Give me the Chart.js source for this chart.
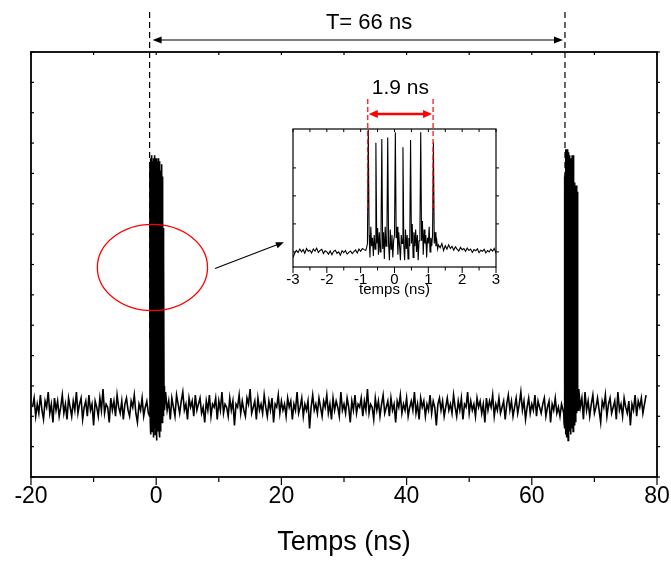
<!DOCTYPE html>
<html><head><meta charset="utf-8">
<script src="https://cdn.jsdelivr.net/npm/chart.js@4.4.1/dist/chart.umd.min.js"></script>
<style>
html,body{margin:0;padding:0;background:#fff;}
#wrap{position:relative;width:671px;height:563px;overflow:hidden;}
#main{position:absolute;left:0;top:0;}
#inset{position:absolute;left:255px;top:70px;}
</style></head><body>
<div id="wrap"><canvas id="main" width="671" height="563"></canvas><canvas id="inset" width="270" height="235"></canvas></div>
<script>
// ---------- main trace (time in ns, amplitude in arbitrary units) ----------
const coarseStep = 0.25, fineStep = 0.05;
const noiseAStart = -19.75;
const noiseA = [2.3,2.6,2.0,2.4,2.1,2.7,2.2,1.9,2.5,2.3,2.8,2.1,2.4,1.8,2.6,2.2,2.5,2.0,2.3,2.7,
2.1,2.4,1.9,2.6,2.3,2.0,2.5,2.2,2.8,2.1,2.4,2.6,1.9,2.3,2.5,2.0,2.7,2.2,2.4,1.7,
2.5,2.3,2.0,2.6,2.2,2.9,2.1,2.4,2.3,1.8,2.6,2.2,2.5,2.0,2.7,2.3,2.1,2.5,1.9,2.4,
2.6,2.2,2.0,2.5,2.3,2.7,2.1,1.8,2.4,2.2,2.6,2.0,2.3,2.5,2.1];
const pulse1Start = -1.05;
const pulse1 = [2.0,10.3,1.8,10.5,1.4,10.2,2.2,10.6,1.5,10.4,1.7,10.1,1.3,10.5,2.0,10.3,1.6,10.6,1.4,10.2,
1.9,10.5,1.2,10.3,1.7,10.4,1.5,10.0,2.1,10.5,1.6,10.2,1.3,10.4,1.9,10.1,1.5,9.8,2.2,10.3,
1.8,9.9,2.4,8.2,2.0,7.4,2.6,3.0,2.2];
const noiseBStart = 1.5;
const noiseB = [2.8,2.2,2.5,1.9,2.6,2.3,2.0,2.7,2.4,2.1,2.5,2.8,2.2,2.4,1.9,2.6,2.3,2.5,2.0,2.7,
2.2,2.4,2.6,2.1,2.3,1.8,2.5,2.2,2.7,2.0,2.4,2.3,2.6,1.9,2.5,2.2,2.8,2.1,2.4,2.3,
2.0,2.6,2.2,2.5,1.7,2.4,2.3,2.7,2.1,2.5,2.2,2.0,2.6,2.4,2.9,2.1,2.3,2.5,1.9,2.6,
2.2,2.4,2.1,2.7,2.3,2.0,2.5,2.2,2.6,1.8,2.4,2.3,2.7,2.1,2.5,2.2,2.4,2.0,2.6,2.3,
2.5,1.9,2.4,2.2,2.8,2.1,2.3,2.6,2.0,2.4,2.2,2.5,1.6,2.3,2.7,2.2,2.4,2.1,2.6,2.3,
2.0,2.5,2.3,2.7,2.1,2.4,1.9,2.6,2.2,2.5,2.3,2.0,2.8,2.2,2.4,2.1,2.6,2.3,1.8,2.5,
2.2,2.7,2.1,2.4,2.3,2.6,2.0,2.5,2.2,2.9,2.1,2.4,2.3,1.9,2.6,2.2,2.5,2.0,2.4,2.7,
2.1,2.3,2.5,2.0,2.6,2.2,2.4,1.8,2.5,2.3,2.7,2.1,2.4,2.2,2.6,2.0,2.3,2.5,2.2,2.8,
2.1,2.4,1.9,2.6,2.3,2.5,2.0,2.4,2.2,2.7,2.1,2.5,2.3,1.7,2.4,2.6,2.2,2.5,2.0,2.3,
2.6,2.2,2.4,2.1,2.7,2.3,2.0,2.5,2.2,2.6,1.9,2.4,2.3,2.8,2.1,2.5,2.2,2.4,2.0,2.6,
2.3,2.5,2.1,2.4,1.8,2.6,2.2,2.5,2.3,2.7,2.0,2.4,2.2,2.6,2.1,2.3,2.5,1.9,2.4,2.7,
2.2,2.5,2.0,2.3,2.6,2.1,2.4,2.8,2.2,2.5,1.9,2.3,2.6,2.1,2.4,2.2,2.7,2.0,2.5,2.3,
2.1,2.4,2.6,2.0,2.3,2.5,1.8,2.4,2.2,2.6,2.1,2.3,2.0,2.4,2.2];
const pulse2Start = 65.1;
const pulse2 = [2.1,1.8,2.4,9.9,1.6,10.0,1.4,10.8,1.9,10.6,1.3,10.8,1.7,10.5,1.2,10.7,2.0,10.4,1.5,10.6,
1.8,10.3,1.4,10.5,2.1,10.2,1.6,10.6,1.9,10.1,1.5,10.6,2.2,9.6,1.7,9.7,2.0,9.5,1.8,9.6,
2.3,9.6,2.1,9.4,2.6,2.9,2.2];
const noiseCStart = 67.5;
const noiseC = [2.9,2.3,2.6,1.9,2.8,2.2,2.5,2.0,2.4,2.7,2.1,2.3,2.6,2.2,1.8,2.5,2.3,2.7,2.0,2.4,
2.6,2.1,2.3,2.5,1.9,2.8,2.2,2.4,2.0,2.6,2.3,2.1,2.5,1.7,2.4,2.2,2.7,2.0,2.5,2.3,
2.6,2.1,2.4,2.7];

// ---------- inset trace (zoom on one pulse train) ----------
const insetCoarse = 0.05, insetFine = 0.025;
const insetNoiseLStart = -3.0;
const insetNoiseL = [-0.2,-0.05,0.05,-0.02,0.1,0.0,0.08,-0.05,0.12,0.02,0.06,-0.04,0.1,0.03,0.13,-0.02,0.05,0.09,-0.06,0.04,
0.0,-0.08,0.03,-0.1,0.02,0.06,-0.05,0.0,-0.12,0.04,-0.03,0.05,-0.08,-0.02,0.03,-0.06,0.01,0.07,-0.04,0.1,
0.02,0.12,0.08];
const insetPulseStart = -0.85;
const insetPulse = [0.05,0.15,0.3,4.35,0.6,-0.2,0.9,0.2,0.5,-0.15,0.6,0.1,3.9,0.3,0.85,-0.1,0.7,0.0,0.4,4.03,
0.1,0.7,-0.25,0.9,0.2,0.5,4.09,0.3,-0.3,0.8,0.1,0.6,-0.2,0.4,0.6,4.27,0.5,0.9,-0.1,0.7,
0.2,-0.3,0.6,0.3,3.74,0.2,-0.3,0.8,0.1,0.6,-0.25,0.5,0.2,4.0,0.3,1.0,-0.2,0.7,0.2,0.8,
0.0,0.6,-0.3,0.4,0.5,4.27,0.4,1.1,-0.1,0.8,0.3,0.6,-0.2,0.5,0.3,0.9,0.0,0.5,0.2,0.6,
3.91,0.3,0.7,0.2,0.4,0.1,0.25];
const insetNoiseRStart = 1.35;
const insetNoiseR = [0.15,0.3,0.05,0.22,0.1,0.25,0.12,0.2,0.06,0.18,0.1,0.03,0.16,0.08,0.12,0.02,0.14,0.05,0.1,-0.02,
0.08,0.04,0.11,-0.03,0.06,0.02,0.09,-0.04,0.05,0.0,0.1,0.03,0.12,-0.05];

// ---------- annotations (data units) ----------
const periodMarks = [-1.05, 65.3];
const periodLabel = 'T= 66 ns';
const periodLabelX = 34;
const trainMarks = [-0.79, 1.14];
const trainLabel = '1.9 ns';
const ellipse = {cx: -0.6, cy: 6.9, rx: 8.8, ry: 1.42};
const pointerFrom = {x: 9.4, y: 6.87}, pointerTo = {x: 20.4, y: 7.73};
const mainXTicks = {min: -20, max: 80, step: 10, labelEvery: 20};
const insetXTicks = {min: -3, max: 3, step: 0.5};

const FONT = '"Liberation Sans", Arial, Helvetica, sans-serif';
Chart.defaults.font.family = FONT;
Chart.defaults.color = '#000';

function seg(start, step, vals) {
  return vals.map((v, i) => ({x: +(start + i * step).toFixed(4), y: v}));
}
const mainData = [].concat(
  seg(noiseAStart, coarseStep, noiseA),
  seg(pulse1Start, fineStep, pulse1),
  seg(noiseBStart, coarseStep, noiseB),
  seg(pulse2Start, fineStep, pulse2),
  seg(noiseCStart, coarseStep, noiseC));
const insetData = [].concat(
  seg(insetNoiseLStart, insetCoarse, insetNoiseL),
  seg(insetPulseStart, insetFine, insetPulse),
  seg(insetNoiseRStart, insetCoarse, insetNoiseR));

function line(ctx, x1, y1, x2, y2) { ctx.beginPath(); ctx.moveTo(x1, y1); ctx.lineTo(x2, y2); ctx.stroke(); }
function head(ctx, xt, yt, xf, yf, len, wid) {
  const ang = Math.atan2(yt - yf, xt - xf);
  ctx.beginPath();
  ctx.moveTo(xt, yt);
  ctx.lineTo(xt - len * Math.cos(ang) + wid * Math.sin(ang), yt - len * Math.sin(ang) - wid * Math.cos(ang));
  ctx.lineTo(xt - len * Math.cos(ang) - wid * Math.sin(ang), yt - len * Math.sin(ang) + wid * Math.cos(ang));
  ctx.closePath(); ctx.fill();
}
const isInt = v => Math.abs(v - Math.round(v)) < 1e-6;

const mainDecor = {
  id: 'mainDecor',
  afterDraw(chart) {
    const {ctx, chartArea: a, scales: {x, y}} = chart;
    ctx.save();
    ctx.strokeStyle = '#000'; ctx.fillStyle = '#000';
    ctx.lineWidth = 1.8;
    ctx.strokeRect(a.left, a.top, a.right - a.left, a.bottom - a.top);
    ctx.lineWidth = 1.2;
    x.ticks.forEach(t => {
      const px = x.getPixelForValue(t.value);
      const major = isInt(t.value / mainXTicks.labelEvery);
      line(ctx, px, a.bottom, px, a.bottom + (major ? 8 : 5));
      line(ctx, px, a.top, px, a.top + 3);
    });
    y.ticks.forEach(t => {
      if (!isInt(t.value)) return;
      const py = y.getPixelForValue(t.value);
      line(ctx, a.left, py, a.left + 3, py);
      line(ctx, a.right, py, a.right + 3, py);
    });
    // period marks
    ctx.lineWidth = 1.2; ctx.setLineDash([6, 4]);
    const topY = 12, arrowY = a.top - 12;
    periodMarks.forEach(m => {
      const px = x.getPixelForValue(m);
      line(ctx, px, topY, px, y.getPixelForValue(4.5));
    });
    ctx.setLineDash([]);
    const p1 = x.getPixelForValue(periodMarks[0]) + 3, p2 = x.getPixelForValue(periodMarks[1]) - 2;
    ctx.lineWidth = 1.1;
    line(ctx, p1 + 4, arrowY, p2 - 4, arrowY);
    head(ctx, p1, arrowY, p2, arrowY, 9, 3.5);
    head(ctx, p2, arrowY, p1, arrowY, 9, 3.5);
    ctx.font = '22px ' + FONT; ctx.textAlign = 'center'; ctx.textBaseline = 'middle';
    ctx.fillText(periodLabel, x.getPixelForValue(periodLabelX), 23);
    // red ellipse
    ctx.strokeStyle = '#ff0000'; ctx.lineWidth = 1.3;
    const ecx = x.getPixelForValue(ellipse.cx), ecy = y.getPixelForValue(ellipse.cy);
    const erx = x.getPixelForValue(ellipse.cx + ellipse.rx) - ecx;
    const ery = ecy - y.getPixelForValue(ellipse.cy + ellipse.ry);
    ctx.beginPath(); ctx.ellipse(ecx, ecy, erx, ery, 0, 0, Math.PI * 2); ctx.stroke();
    // pointer arrow
    ctx.strokeStyle = '#000'; ctx.lineWidth = 1.1;
    const fx = x.getPixelForValue(pointerFrom.x), fy = y.getPixelForValue(pointerFrom.y);
    const tx = x.getPixelForValue(pointerTo.x), ty = y.getPixelForValue(pointerTo.y);
    line(ctx, fx, fy, tx - 3, ty + 1);
    head(ctx, tx, ty, fx, fy, 8, 3.2);
    ctx.restore();
  }
};

new Chart(document.getElementById('main'), {
  type: 'scatter',
  data: {datasets: [{data: mainData, showLine: true, borderColor: '#000', borderWidth: 1.6, pointRadius: 0, tension: 0}]},
  options: {
    responsive: false, animation: false, devicePixelRatio: 1,
    layout: {padding: {left: 31, right: 14, top: 52, bottom: 0}},
    plugins: {legend: {display: false}, tooltip: {enabled: false}},
    scales: {
      x: {
        type: 'linear', min: mainXTicks.min, max: mainXTicks.max,
        grid: {display: false, drawTicks: false}, border: {display: false},
        ticks: {stepSize: mainXTicks.step, autoSkip: false, maxRotation: 0, padding: 6,
          font: {size: 23}, color: '#000',
          callback: v => isInt(v / mainXTicks.labelEvery) ? String(v) : ''},
        title: {display: true, text: 'Temps (ns)', font: {size: 27}, color: '#000', padding: {top: 0, bottom: 4}},
        afterFit: s => { s.height = 86; s.paddingLeft = 0; s.paddingRight = 0; }
      },
      y: {
        min: 0, max: 14,
        grid: {display: false, drawTicks: false}, border: {display: false},
        ticks: {display: false, stepSize: 1},
        afterFit: s => { s.width = 0; s.paddingTop = 0; s.paddingBottom = 0; }
      }
    }
  },
  plugins: [mainDecor]
});

const insetDecor = {
  id: 'insetDecor',
  afterDraw(chart) {
    const {ctx, chartArea: a, scales: {x, y}} = chart;
    ctx.save();
    ctx.strokeStyle = '#000'; ctx.fillStyle = '#000';
    ctx.lineWidth = 1.2;
    ctx.strokeRect(a.left, a.top, a.right - a.left, a.bottom - a.top);
    ctx.lineWidth = 1;
    x.ticks.forEach(t => {
      const px = x.getPixelForValue(t.value);
      line(ctx, px, a.bottom, px, a.bottom + (isInt(t.value) ? 6 : 3.5));
      line(ctx, px, a.top, px, a.top + 3);
    });
    y.ticks.forEach(t => {
      if (!isInt(t.value)) return;
      const py = y.getPixelForValue(t.value);
      line(ctx, a.left, py, a.left + 3, py);
      line(ctx, a.right, py, a.right + 3, py);
    });
    // red duration marks
    ctx.strokeStyle = '#ff0000'; ctx.fillStyle = '#ff0000';
    ctx.lineWidth = 1.2; ctx.setLineDash([5, 3]);
    const yTop = a.top - 30, yBot = y.getPixelForValue(1.42);
    trainMarks.forEach(m => { const px = x.getPixelForValue(m); line(ctx, px, yTop, px, yBot); });
    ctx.setLineDash([]);
    const ay = a.top - 15;
    const q1 = x.getPixelForValue(trainMarks[0]) + 1, q2 = x.getPixelForValue(trainMarks[1]) - 1;
    ctx.lineWidth = 2.6;
    line(ctx, q1 + 6, ay, q2 - 6, ay);
    head(ctx, q1, ay, q2, ay, 9, 4);
    head(ctx, q2, ay, q1, ay, 9, 4);
    ctx.fillStyle = '#000';
    ctx.font = '21px ' + FONT; ctx.textAlign = 'center'; ctx.textBaseline = 'middle';
    ctx.fillText(trainLabel, x.getPixelForValue((trainMarks[0] + trainMarks[1]) / 2), a.top - 41);
    ctx.restore();
  }
};

new Chart(document.getElementById('inset'), {
  type: 'scatter',
  data: {datasets: [{data: insetData, showLine: true, borderColor: '#000', borderWidth: 1.1, pointRadius: 0, tension: 0}]},
  options: {
    responsive: false, animation: false, devicePixelRatio: 1,
    layout: {padding: {left: 38, right: 29, top: 59, bottom: 0}},
    plugins: {legend: {display: false}, tooltip: {enabled: false}},
    scales: {
      x: {
        type: 'linear', min: insetXTicks.min, max: insetXTicks.max,
        grid: {display: false, drawTicks: false}, border: {display: false},
        ticks: {stepSize: insetXTicks.step, autoSkip: false, maxRotation: 0, padding: 4,
          font: {size: 15}, color: '#000',
          callback: v => isInt(v) ? String(v) : ''},
        title: {display: true, text: 'temps (ns)', font: {size: 15}, color: '#000', padding: {top: 0, bottom: 6}},
        afterFit: s => { s.height = 38; s.paddingLeft = 0; s.paddingRight = 0; }
      },
      y: {
        min: -0.54, max: 4.39,
        grid: {display: false, drawTicks: false}, border: {display: false},
        ticks: {display: false, stepSize: 1},
        afterFit: s => { s.width = 0; s.paddingTop = 0; s.paddingBottom = 0; }
      }
    }
  },
  plugins: [insetDecor]
});
</script>
</body></html>
